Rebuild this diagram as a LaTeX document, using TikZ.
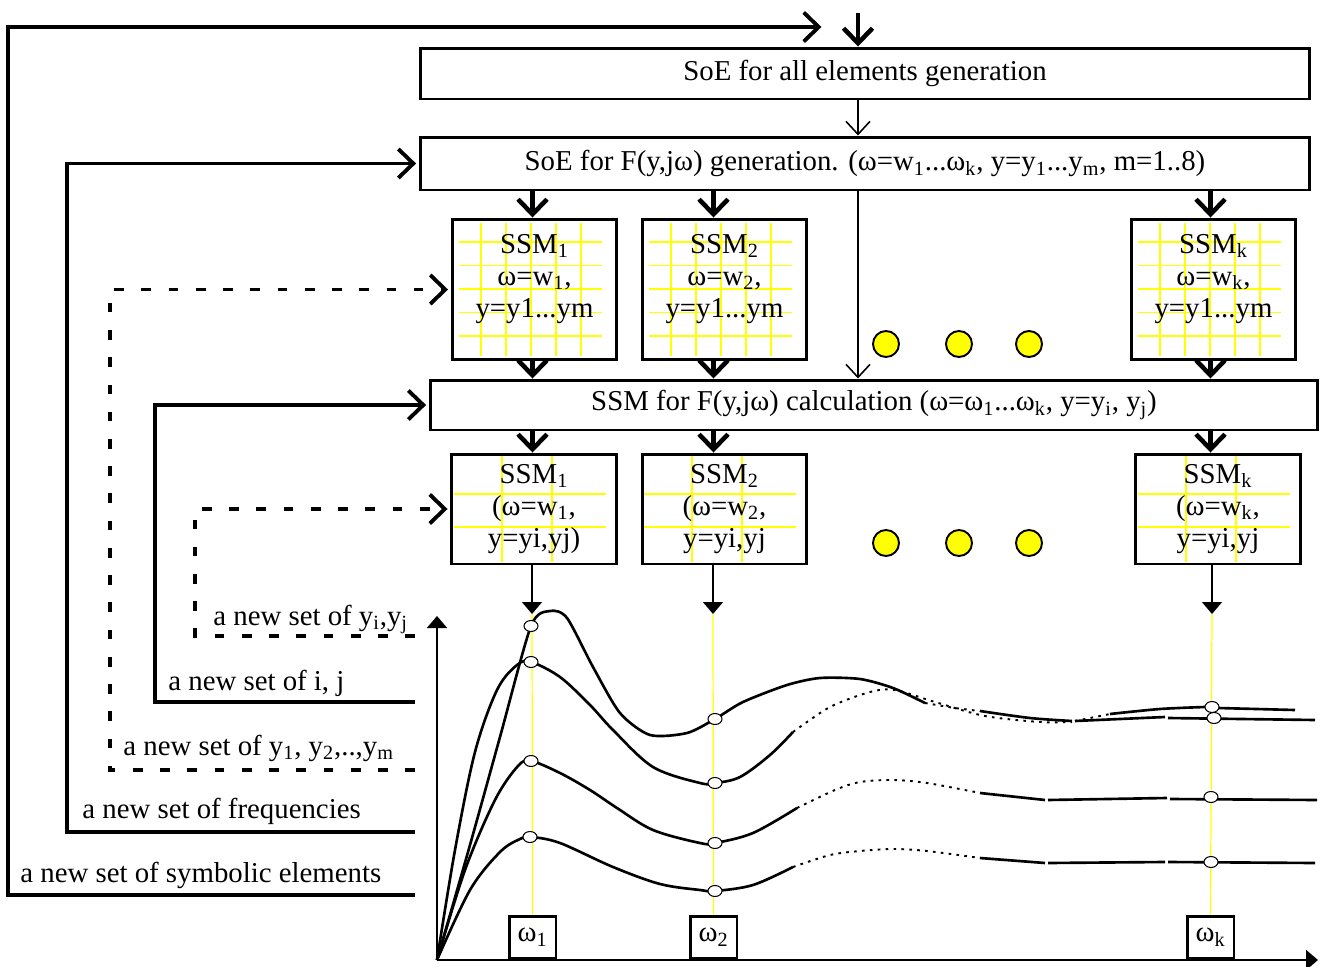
\documentclass[tikz,border=0pt]{standalone}
\usepackage{fontspec}
\setmainfont{Liberation Serif}
\usepackage{tikz}
\usetikzlibrary{arrows.meta, calc, shapes.geometric}
\definecolor{ssmyellow}{RGB}{255,255,0}
\tikzset{>={Straight Barb[length=3mm,width=5.8mm]}}
\tikzset{
  bigbox/.style={draw=black, line width=1.7pt, minimum width=17.8cm, inner sep=0pt},
  ssmbox/.style={draw=black, line width=1.7pt, minimum width=3.3cm, inner sep=0pt, align=center},
  wbox/.style={draw=black, line width=1.7pt, minimum width=0.94cm, minimum height=0.84cm, inner sep=0pt},
  thickarrow/.style={line width=2.6pt, ->},
  thinarrow/.style={line width=0.9pt, -{Straight Barb[length=2.6mm,width=4.8mm]}},
  feedarrow/.style={line width=0.8pt, -{Triangle[length=2.4mm,width=4mm]}},
  loopline/.style={line width=2.2pt, ->, shorten >=0.5mm},
  loopdash/.style={loopline, dash pattern=on 5.5pt off 10pt},
  gridline/.style={draw=ssmyellow, line width=0.7pt},
  curve/.style={line width=1.5pt},
  curvedot/.style={line width=1.1pt, dash pattern=on 1.5pt off 3pt},
  ydot/.style={circle, draw=black, line width=1.1pt, fill=ssmyellow, minimum size=0.52cm, inner sep=0pt},
  valmark/.style={ellipse, draw=black, line width=0.6pt, fill=white, minimum width=0.28cm, minimum height=0.22cm, inner sep=0pt},
  lbl/.style={anchor=base west, inner sep=0pt}
}

\begin{document}
\begin{tikzpicture}[x=0.02cm, y=-0.02cm, font=\fontsize{16.4}{18.3}\selectfont]
  \useasboundingbox (0,0) rectangle (1320,967);

  % yellow grids behind the SSM boxes
  \foreach \L in {452,642,1131} {
    \foreach \i in {0,...,4} {
      \draw[gridline] (\L+29+25*\i,223) -- (\L+29+25*\i,356);
      \draw[gridline] (\L+7,242+23.5*\i) -- (\L+150,242+23.5*\i);
    }
  }
  \foreach \L in {452,642,1136} {
    \draw[gridline] (\L+50,456) -- (\L+50,562);
    \draw[gridline] (\L+100,456) -- (\L+100,562);
    \draw[gridline] (\L+2,494) -- (\L+154,494);
    \draw[gridline] (\L+2,527) -- (\L+154,527);
  }

  % main blocks
  \node[bigbox, minimum height=1.02cm] (b1) at (865,73.5) {SoE for all elements generation};
  \node[bigbox, minimum height=1.06cm] (b2) at (865,163.5) {SoE for F(y,jω) generation. (ω=w\textsubscript{1}...ω\textsubscript{k}, y=y\textsubscript{1}...y\textsubscript{m}, m=1..8)};
  \node[bigbox, minimum width=17.76cm, minimum height=1.0cm] (b3) at (874,405) {SSM for F(y,jω) calculation (ω=ω\textsubscript{1}...ω\textsubscript{k}, y=y\textsubscript{i}, y\textsubscript{j})};

  \node[ssmbox, minimum height=2.82cm] (s1) at (534.5,289.5) {};
  \node[ssmbox, minimum height=2.82cm] (s2) at (724.5,289.5) {};
  \node[ssmbox, minimum height=2.82cm] (sk) at (1213.5,289.5) {};
  \node[align=center] (s1t) at (534.5,279) {SSM\textsubscript{1}\\ω=w\textsubscript{1},\\y=y1...ym};
  \node[align=center] (s2t) at (724.5,279) {SSM\textsubscript{2}\\ω=w\textsubscript{2},\\y=y1...ym};
  \node[align=center] (skt) at (1213.5,279) {SSM\textsubscript{k}\\ω=w\textsubscript{k},\\y=y1...ym};

  \node[ssmbox, minimum height=2.2cm] (r1) at (534,509) {SSM\textsubscript{1}\\(ω=w\textsubscript{1},\\y=yi,yj)};
  \node[ssmbox, minimum height=2.2cm] (r2) at (724.5,509) {SSM\textsubscript{2}\\(ω=w\textsubscript{2},\\y=yi,yj};
  \node[ssmbox, minimum height=2.2cm] (rk) at (1218,509) {SSM\textsubscript{k}\\(ω=w\textsubscript{k},\\y=yi,yj};

  \node[ydot] (d1) at (886,344) {};
  \node[ydot] (d2) at (959,344) {};
  \node[ydot] (d3) at (1029,344) {};
  \node[ydot] (d4) at (886,543) {};
  \node[ydot] (d5) at (959,543) {};
  \node[ydot] (d6) at (1029,543) {};

  % frequency boxes on the axis
  \node[wbox] (w1) at (532.5,937) {ω\textsubscript{1}};
  \node[wbox] (w2) at (713.5,937) {ω\textsubscript{2}};
  \node[wbox] (wk) at (1210.5,937) {ω\textsubscript{k}};

  % flow arrows
  \coordinate (entry) at (858,13);
  \draw[thickarrow] (entry) -- (entry |- b1.north);
  \draw[thinarrow] (entry |- b1.south) -- (entry |- b2.north);
  \draw[thinarrow] (entry |- b2.south) -- (entry |- b3.north);
  \foreach \w/\s/\r in {w1/s1/r1, w2/s2/r2, wk/sk/rk} {
    \draw[thickarrow] (\w |- b2.south) -- (\w |- \s.north);
    \draw[thickarrow] (\w |- \s.south) -- (\w |- b3.north);
    \draw[thickarrow] (\w |- b3.south) -- (\w |- \r.north);
  }

  % chart
  \coordinate (O) at (437,960);
  \coordinate (ytop) at (437,616);
  \coordinate (xend) at (1318,960);
  \coordinate (f1) at (532,614);
  \coordinate (f2) at (713,614);
  \coordinate (fk) at (1212,614);
  \draw[gridline] (w1.north) -- (f1);
  \draw[gridline] (w2.north) -- (f2);
  \draw[gridline] (wk.north) -- (fk);
  \draw[feedarrow] (r1.south -| f1) -- (f1);
  \draw[feedarrow] (r2.south -| f2) -- (f2);
  \draw[feedarrow] (rk.south -| fk) -- (fk);
  \draw[feedarrow, line width=1.1pt] (O) -- (ytop);
  \draw[feedarrow, line width=1.1pt] (O) -- (xend);

  \draw[curve] plot[smooth, tension=0.45] coordinates {(437,960) (470,845) (500,737) (531,626) (550,611) (567,618) (593,667) (620,713) (650,735) (687,733) (715,719) (743,702) (787,685) (820,678) (860,679) (893,688) (925,703)};
  \draw[curvedot] plot[smooth] coordinates {(925,703) (955,708) (980,711)};
  \draw[curve] plot[smooth] coordinates {(980,711) (1030,718) (1072,721)};
  \draw[curvedot] (1075,721) -- (1110,714);
  \draw[curve] plot[smooth] coordinates {(1110,714) (1160,709) (1205,707)};
  \draw[curve] (1218,708) -- (1295,710);

  \draw[curve] plot[smooth, tension=0.55] coordinates {(437,960) (455,850) (475,752) (497,690) (517,665) (531,662) (560,677) (590,705) (613,730) (653,767) (700,783) (715,783) (740,777) (770,755) (793,732)};
  \draw[curvedot] plot[smooth] coordinates {(793,732) (830,707) (870,692) (895,690) (935,702) (985,716) (1040,722) (1072,722)};
  \draw[curve] (1075,721) -- (1165,717);
  \draw[curve] (1168,718) -- (1315,720);

  \draw[curve] plot[smooth, tension=0.55] coordinates {(437,960) (465,870) (495,800) (518,766) (531,761) (560,773) (590,790) (617,808) (653,830) (700,843) (715,843) (753,833) (797,808)};
  \draw[curvedot] plot[smooth] coordinates {(797,808) (835,790) (860,782) (893,780) (927,783) (980,793)};
  \draw[curve] (980,793) -- (1045,800);
  \draw[curve] (1048,800) -- (1167,798);
  \draw[curve] (1170,799) -- (1317,800);

  \draw[curve] plot[smooth, tension=0.55] coordinates {(437,960) (470,890) (500,852) (520,839) (531,837) (560,843) (613,867) (660,884) (700,890) (715,891) (753,885) (793,867)};
  \draw[curvedot] plot[smooth] coordinates {(793,867) (830,855) (860,851) (893,849) (927,851) (980,858)};
  \draw[curve] (980,858) -- (1045,863);
  \draw[curve] (1048,863) -- (1165,862);
  \draw[curve] (1168,862) -- (1315,863);

  \foreach \p in {(531,626), (531,662), (531,761), (530,837),
                  (715,719), (715,783), (715,843), (715,891),
                  (1212,707), (1214,718), (1211,797), (1211,862)}
    \node[valmark] at \p {};

  % feedback loops
  \coordinate (top) at (824,27);
  \coordinate (lsym) at (415,895);
  \coordinate (lfreq) at (415,832);
  \coordinate (lyall) at (415,770);
  \coordinate (lij) at (415,702);
  \coordinate (lyij) at (415,636);
  \draw[loopline] (lsym) -- ++(-407,0) |- (top);
  \draw[loopline] (lfreq) -- ++(-348,0) |- (b2.west);
  \draw[loopdash] (lyall) -- ++(-305,0) |- (s1.west);
  \draw[loopline] (lij) -- ++(-260,0) |- (b3.west);
  \draw[loopdash] (lyij) -- ++(-220,0) |- (r1.west);

  \node[lbl] (tsym) at (20,882) {a new set of symbolic elements};
  \node[lbl] (tfreq) at (82,818) {a new set of frequencies};
  \node[lbl] (tyall) at (123,755) {a new set of y\textsubscript{1}, y\textsubscript{2},..,y\textsubscript{m}};
  \node[lbl] (tij) at (168,690) {a new set of i, j};
  \node[lbl] (tyij) at (213,625) {a new set of y\textsubscript{i},y\textsubscript{j}};
\end{tikzpicture}
\end{document}
